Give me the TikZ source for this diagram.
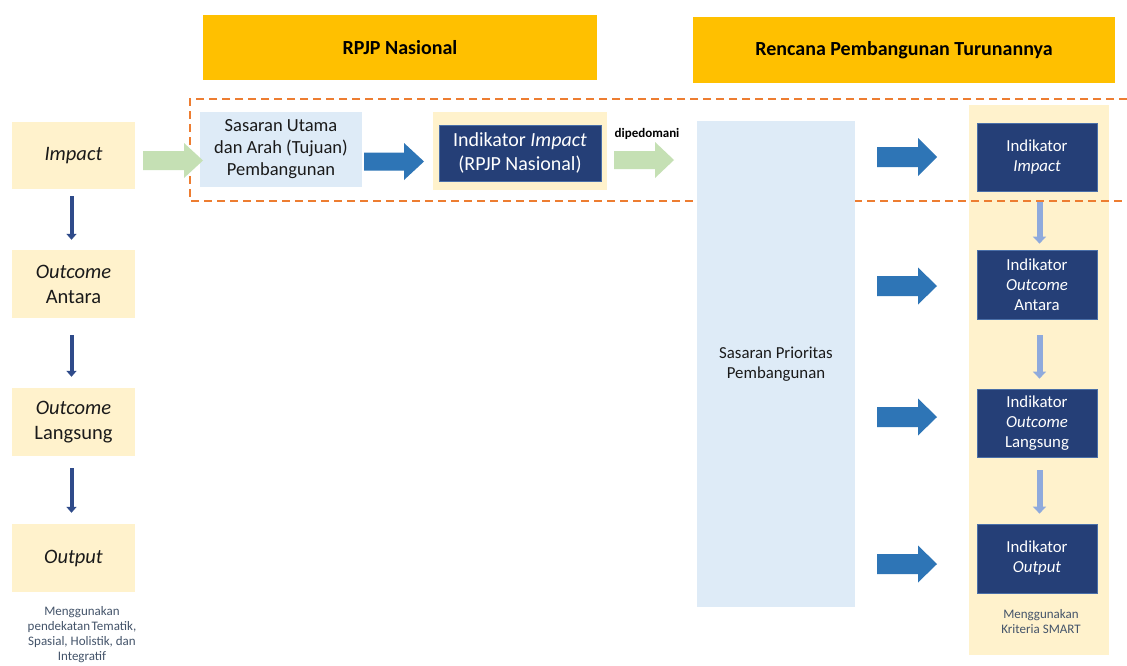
\documentclass[tikz,border=0pt]{standalone}
\usepackage{fontspec}
\setmainfont{Carlito}
\usetikzlibrary{arrows.meta,calc}
\definecolor{gold}{HTML}{FFC000}
\definecolor{cream}{HTML}{FFF2CC}
\definecolor{ltblue}{HTML}{DEEBF7}
\definecolor{navy}{HTML}{253F77}
\definecolor{navyedge}{HTML}{4A6FA8}
\definecolor{midblue}{HTML}{2E75B6}
\definecolor{ltgreen}{HTML}{C5E0B4}
\definecolor{orangeD}{HTML}{ED7D31}
\definecolor{darkarrow}{HTML}{2F4B8A}
\definecolor{paleblue}{HTML}{8FAADC}
\definecolor{notecol}{HTML}{44546A}
\definecolor{txtdark}{HTML}{1A1A1A}

\newcommand\rbox[7][]{\node[#1, minimum width={#5-#3}, minimum height={#6-#4}] (#2) at ({(#3+#5)/2},{(#4+#6)/2}) {#7};}
\newcommand\blockarrow[6]{%
  \fill[#1] let \p1=(#2), \p2=(#3) in
   (\x1,{\y1+#4pt}) -- ({\x2-#6pt},{\y1+#4pt}) -- ({\x2-#6pt},{\y1+#5pt}) -- (\x2,\y1)
   -- ({\x2-#6pt},{\y1-#5pt}) -- ({\x2-#6pt},{\y1-#4pt}) -- (\x1,{\y1-#4pt}) -- cycle;}

\tikzset{
  base/.style={inner sep=0pt, align=center},
  titlebox/.style={base, fill=gold, font=\fontsize{20}{24}\selectfont\bfseries, text=black},
  levelbox/.style={base, fill=cream, font=\fontsize{20.5}{25}\selectfont, text=txtdark},
  creambg/.style={base, fill=cream},
  lbbox/.style={base, fill=ltblue, text=txtdark},
  navybox/.style={base, fill=navy, draw=navyedge, line width=0.8pt, text=white},
  rnavy/.style={navybox, font=\fontsize{16.8}{20}\selectfont},
  notetext/.style={base, text=notecol, font=\fontsize{13}{15}\selectfont},
  orangedash/.style={draw=orangeD, line width=2.5pt, dash pattern=on 8pt off 5pt},
  downarr/.style={draw=darkarrow, line width=4pt, -{Triangle[width=10pt,length=6pt]}},
  palearr/.style={draw=paleblue, line width=6pt, -{Triangle[width=13pt,length=7pt]}},
  greenfill/.style={fill=ltgreen},
  bluefill/.style={fill=midblue},
}

\begin{document}
\begin{tikzpicture}[x=1pt,y=-1pt]
\useasboundingbox (0,0) rectangle (1127,665);
\fill[white] (0,0) rectangle (1127,665);

% titles
\rbox[titlebox]{t1}{203}{15}{597}{80}{RPJP Nasional}
\rbox[titlebox]{t2}{693}{17}{1115}{83}{Rencana Pembangunan Turunannya}

% cream column right
\rbox[creambg]{col}{969}{105}{1109}{655}{}

% dashed frame
\draw[orangedash] (1127,99) -- (190,99) -- (190,201) -- (1127,201);

% left levels
\rbox[levelbox]{imp}{12}{122}{135}{189}{\textit{Impact}}
\rbox[levelbox]{oa}{12}{250}{135}{318}{\textit{Outcome}\\Antara}
\rbox[levelbox]{ol}{12}{388}{135}{456}{\textit{Outcome}\\Langsung}
\rbox[levelbox]{out}{12}{524}{135}{592}{\textit{Output}}
\node[notetext] (n1) at (82,635) {Menggunakan\\pendekatan\hspace{1.5pt}Tematik,\\Spasial, Holistik, dan\\Integratif};

\draw[downarr, shorten <=7pt, shorten >=10pt] ([xshift=-2pt]imp.south) -- ([xshift=-2pt]oa.north);
\draw[downarr, shorten <=17pt, shorten >=11pt] ([xshift=-2pt]oa.south) -- ([xshift=-2pt]ol.north);
\draw[downarr, shorten <=12pt, shorten >=11pt] ([xshift=-2pt]ol.south) -- ([xshift=-2pt]out.north);

% RPJP row
\rbox[lbbox, font=\fontsize{18.5}{22}\selectfont]{sas}{200}{112}{362}{187}{Sasaran Utama\\dan Arah (Tujuan)\\Pembangunan}
\rbox[creambg]{indbg}{433}{112}{607}{190}{}
\rbox[navybox, font=\fontsize{20}{24}\selectfont]{ind}{439}{125}{601}{181}{Indikator \textit{Impact}\\(RPJP Nasional)}
\node[base, font=\fontsize{13}{15}\selectfont\bfseries, text=black] (dip) at (647,134) {dipedomani};

% tall box
\rbox[lbbox, font=\fontsize{16.8}{20.5}\selectfont]{spp}{697}{121}{855}{607}{Sasaran Prioritas\\Pembangunan}

% block arrows
\coordinate (g1s) at (143,160.5); \coordinate (g1e) at (203,160.5);
\blockarrow{greenfill}{g1s}{g1e}{9.5}{17.5}{19}
\coordinate (b1s) at (364,161.5); \coordinate (b1e) at (424,161.5);
\blockarrow{bluefill}{b1s}{b1e}{9}{18.5}{20}
\coordinate (g2s) at (614,160); \coordinate (g2e) at (674,160);
\blockarrow{greenfill}{g2s}{g2e}{9}{18}{19}
\coordinate (r1s) at (877,157); \coordinate (r1e) at (937,157);
\blockarrow{bluefill}{r1s}{r1e}{10}{19}{19}
\coordinate (r2s) at (877,286); \coordinate (r2e) at (937,286);
\blockarrow{bluefill}{r2s}{r2e}{10}{18.5}{19}
\coordinate (r3s) at (877,417); \coordinate (r3e) at (937,417);
\blockarrow{bluefill}{r3s}{r3e}{10}{18.5}{19}
\coordinate (r4s) at (877,564); \coordinate (r4e) at (937,564);
\blockarrow{bluefill}{r4s}{r4e}{10}{18.5}{19}

% right indicators
\rbox[rnavy]{ri}{977}{123}{1097}{191}{Indikator\\\textit{Impact}}
\rbox[rnavy]{roa}{977}{250}{1097}{319}{Indikator\\\textit{Outcome}\\Antara}
\rbox[rnavy]{rol}{977}{389}{1097}{457}{Indikator\\\textit{Outcome}\\Langsung}
\rbox[rnavy]{rout}{977}{524}{1097}{593}{Indikator\\\textit{Output}}
\node[notetext] (n2) at (1041,621.5) {Menggunakan\\Kriteria SMART};

\draw[palearr, shorten <=11pt, shorten >=6pt] ([xshift=2.5pt]ri.south) -- ([xshift=2.5pt]roa.north);
\draw[palearr, shorten <=16pt, shorten >=10pt] ([xshift=2.5pt]roa.south) -- ([xshift=2.5pt]rol.north);
\draw[palearr, shorten <=13pt, shorten >=10pt] ([xshift=2.5pt]rol.south) -- ([xshift=2.5pt]rout.north);
\end{tikzpicture}
\end{document}
